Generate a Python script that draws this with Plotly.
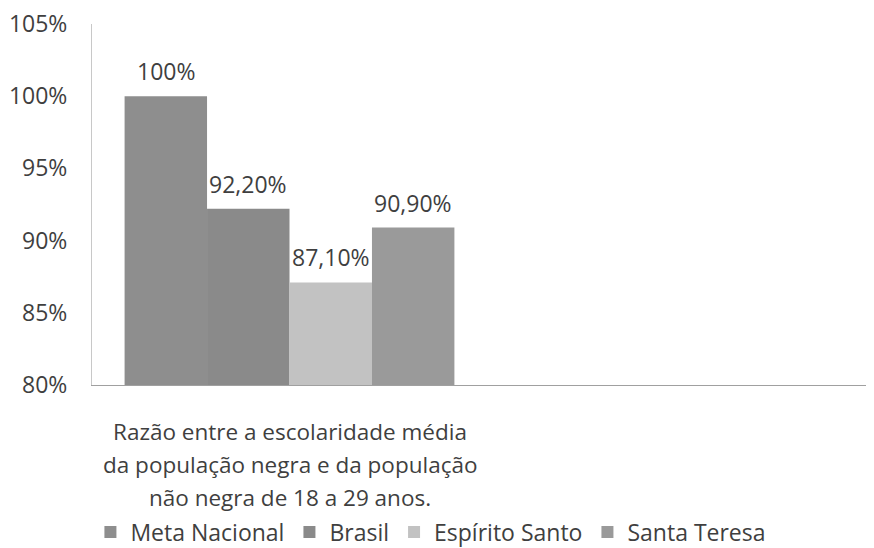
import plotly.graph_objects as go

category = ["Razão entre a escolaridade média da população negra e da população não negra de 18 a 29 anos."]
category_lines = ["Razão entre a escolaridade média",
                  "da população negra e da população",
                  "não negra de 18 a 29 anos."]
series_names = ["Meta Nacional", "Brasil", "Espírito Santo", "Santa Teresa"]
series_values = [100.0, 92.2, 87.1, 90.9]
series_labels = ["100%", "92,20%", "87,10%", "90,90%"]
series_colors = ["#8e8e8e", "#8a8a8a", "#c2c2c2", "#9a9a9a"]
y_tickvals = [80, 85, 90, 95, 100, 105]
y_ticktext = ["80%", "85%", "90%", "95%", "100%", "105%"]

FONT = "Open Sans"
TXT = "#3f3f3f"
BARGAP = 0.165
n = len(series_names)
bar_w = (1 - BARGAP) / n

fig = go.Figure()
for i, (name, val, lab, col) in enumerate(zip(series_names, series_values, series_labels, series_colors)):
    fig.add_trace(go.Bar(
        name=name, x=category, y=[val],
        marker=dict(color=col, line=dict(width=0)),
        hoverinfo="skip",
    ))
    # data label above each bar (position derived from group layout)
    fig.add_annotation(text=lab, xref="x", x=0 + (i - (n - 1) / 2) * bar_w,
                       yref="y", y=val, yanchor="middle", yshift=25,
                       showarrow=False, font=dict(family=FONT, size=23, color=TXT))

for i, line in enumerate(category_lines):
    fig.add_annotation(text=line, xref="x", x=0, yref="paper", y=0,
                       yanchor="middle", yshift=-46 - 33 * i, showarrow=False,
                       font=dict(family=FONT, size=22.5, color=TXT))

fig.update_layout(
    width=874, height=548,
    margin=dict(l=84, r=0, t=16, b=171),
    paper_bgcolor="white", plot_bgcolor="white",
    barmode="group", bargap=BARGAP, bargroupgap=0,
    showlegend=True,
    legend=dict(orientation="h", x=-0.002, xanchor="left", y=-0.407, yanchor="middle",
                font=dict(family=FONT, size=23, color=TXT), traceorder="normal",
                itemwidth=30),
    xaxis=dict(type="category", range=[-0.5, 1.5], showticklabels=False, ticks="",
               showline=True, linecolor="#a0a0a0", linewidth=1, showgrid=False, zeroline=False,
               automargin=False),
    yaxis=dict(range=[80, 105], tickvals=y_tickvals, ticktext=y_ticktext,
               showline=True, linecolor="#c8c8c8", linewidth=1, showgrid=False, zeroline=False,
               ticks="", ticklabelstandoff=19, automargin=False, ticklabeloverflow="allow",
               tickfont=dict(family=FONT, size=23, color=TXT)),
)

fig.write_html("out.html")
